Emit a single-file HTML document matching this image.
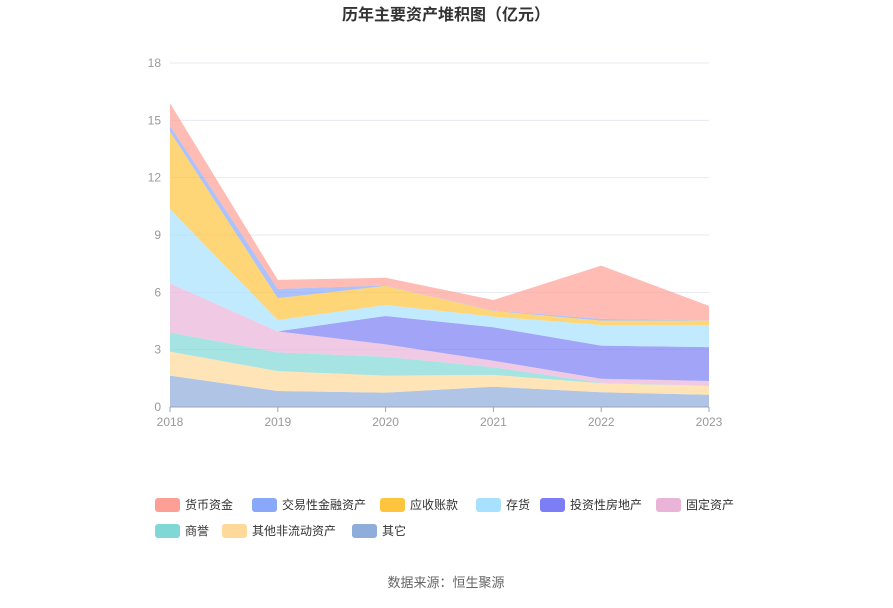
<!DOCTYPE html>
<html><head><meta charset="utf-8"><style>
body{margin:0;background:#fff;font-family:"Liberation Sans","Noto Sans CJK SC",sans-serif;}
</style></head><body>
<svg id="chart" width="893" height="603" xmlns="http://www.w3.org/2000/svg" style="font-family:'Liberation Sans','Noto Sans CJK SC',sans-serif">
<text x="446" y="20" text-anchor="middle" font-size="16" font-weight="bold" fill="#333">历年主要资产堆积图（亿元）</text>
<g id="grid"></g>
<g id="areas"></g>
<g id="axes"></g>
<g id="legend"></g>
<text x="446" y="587" text-anchor="middle" font-size="13" fill="#666">数据来源：恒生聚源</text>
</svg>
<script>
const years = ["2018","2019","2020","2021","2022","2023"];
const yTicks = [0,3,6,9,12,15,18];
const seriesNames = ["其它","其他非流动资产","商誉","固定资产","投资性房地产","存货","应收账款","交易性金融资产","货币资金"];
const sOther = [1.64,0.84,0.75,1.06,0.77,0.64];
const sNonCurrent = [1.26,1.04,0.89,0.62,0.47,0.46];
const sGoodwill = [0.99,0.98,0.99,0.40,0.03,0.0];
const sFixed = [2.58,1.10,0.65,0.34,0.21,0.26];
const sInvProp = [0,0,1.48,1.75,1.73,1.77];
const sInventory = [3.88,0.59,0.58,0.56,1.08,1.15];
const sReceivable = [4.06,1.14,1.00,0.30,0.23,0.24];
const sTrading = [0.30,0.49,0.02,0.02,0.09,0.01];
const sCash = [1.19,0.47,0.40,0.55,2.79,0.76];
const seriesData = [sOther,sNonCurrent,sGoodwill,sFixed,sInvProp,sInventory,sReceivable,sTrading,sCash];
const colors = ["#8eaddb","#ffd99a","#7fd8d6","#e9b4d8","#7b7ef5","#a8e1fd","#ffc43d","#8aa8fa","#fe9f96"];
const NS="http://www.w3.org/2000/svg";
const x0=170,x1=709,y0=407,y1=63;
const xS=i=>x0+(x1-x0)*i/(years.length-1);
const yS=v=>y0-(y0-y1)*v/18;
function mk(t,a,p){const e=document.createElementNS(NS,t);for(const k in a)e.setAttribute(k,a[k]);p.appendChild(e);return e;}
const grid=document.getElementById('grid'),axes=document.getElementById('axes'),areas=document.getElementById('areas'),legend=document.getElementById('legend');
yTicks.forEach(t=>{
  if(t>0){const l=mk('line',{x1:x0,x2:x1,y1:yS(t),y2:yS(t),stroke:'#e6e9f0','stroke-width':1},grid);
  
  }
  const tx=mk('text',{x:161,y:yS(t)+4,'text-anchor':'end','font-size':12,fill:'#999'},axes);tx.textContent=t;
  
  
});
let cum=years.map(()=>0);
seriesData.forEach((s,k)=>{
  const lo=cum.slice();cum=cum.map((c,i)=>c+s[i]);
  let d='M'+years.map((_,i)=>xS(i)+','+yS(cum[i])).join('L');
  for(let i=years.length-1;i>=0;i--)d+='L'+xS(i)+','+yS(lo[i]);
  const p=mk('path',{d:d+'Z',fill:colors[k],'fill-opacity':0.7},areas);
  
  
});
const ax=mk('line',{x1:x0,x2:x1,y1:y0,y2:y0,stroke:'#9aa3b8','stroke-width':1},axes);


years.forEach((y,i)=>{
  const tk=mk('line',{x1:xS(i),x2:xS(i),y1:y0,y2:y0+5,stroke:'#9aa3b8'},axes);
  
  
  const t=mk('text',{x:xS(i),y:426,'text-anchor':'middle','font-size':12,fill:'#999'},axes);t.textContent=y;
  
  
});
const legItems=[[8,155,505],[7,252,505],[6,380,505],[5,476,505],[4,540,505],[3,656,505],[2,155,531],[1,222,531],[0,352,531]];
legItems.forEach(([k,x,y])=>{
  const g=mk('g',{},legend);
  
  
  mk('rect',{x:x,y:y-7,width:25,height:14,rx:3,fill:colors[k]},g);
  const t=mk('text',{x:x+30,y:y+4,'font-size':12,fill:'#333'},g);t.textContent=seriesNames[k];
});
</script>
</body></html>
